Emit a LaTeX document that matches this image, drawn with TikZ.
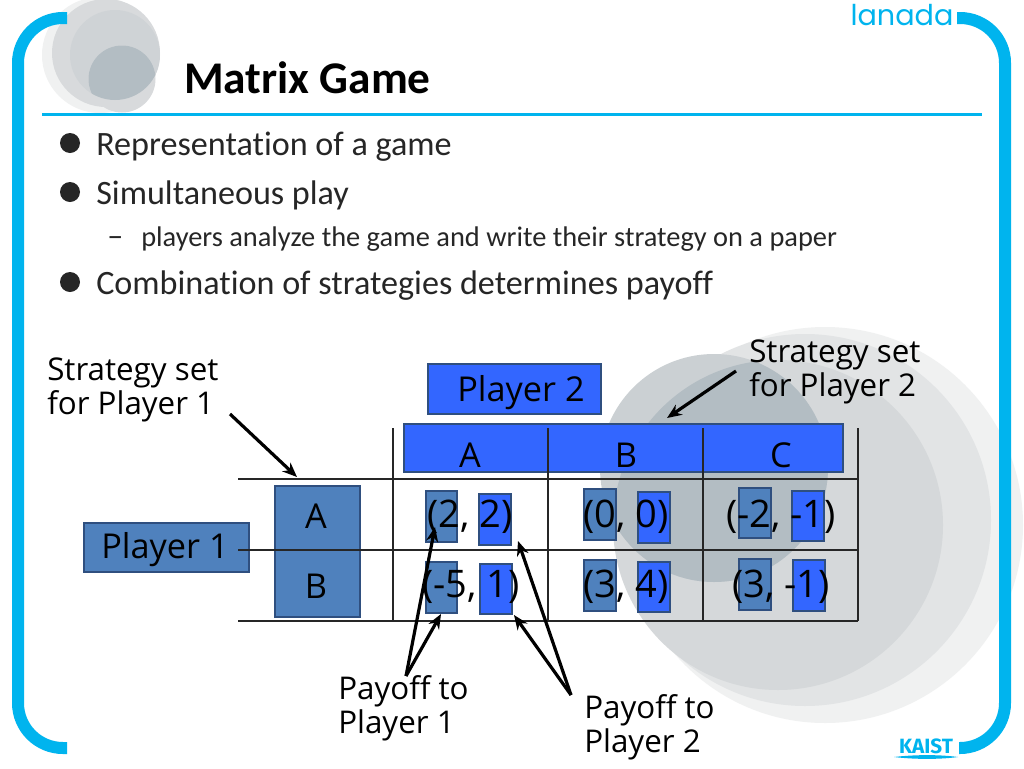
\documentclass[tikz,border=0pt]{standalone}
\usepackage{fontspec}
\setmainfont[Ligatures=NoCommon]{Carlito}
\newfontfamily\handfont{Open Sans}
\newfontfamily\logofont{Poppins}
\newfontfamily\kaistfont{Fira Sans}
\usetikzlibrary{arrows.meta}
\definecolor{framec}{HTML}{00B4EE}
\definecolor{pone}{HTML}{4F81BD}
\definecolor{ptwo}{HTML}{3366FF}
\definecolor{edgec}{HTML}{2F4F7F}
\definecolor{inkc}{HTML}{262626}
\definecolor{ca}{HTML}{F0F1F1}
\definecolor{cb}{HTML}{E2E4E5}
\definecolor{cc}{HTML}{D5D8DA}
\definecolor{cd}{HTML}{CBD0D3}
\definecolor{ce}{HTML}{B3BDC3}
\definecolor{tlb}{HTML}{D8DADC}
\definecolor{tlc}{HTML}{CFD3D6}
\tikzset{
  x=0.75pt,y=-0.75pt,
  frameline/.style={draw=framec,line width=9pt},
  ruleline/.style={draw=framec,line width=2.2pt},
  tablegrid/.style={draw=black!85,line width=1.3pt},
  pointer/.style={draw=black,line width=2.4pt,-{Stealth[length=11pt,width=9pt]}},
  hand/.style={font=\handfont\fontsize{23.5}{25.5}\selectfont,inner sep=0pt,align=left,text=black},
  cellt/.style={font=\handfont\fontsize{28.5}{30}\selectfont,inner sep=0pt,text=black},
  labelt/.style={font=\handfont\fontsize{25.7}{27}\selectfont,inner sep=0pt,text=black},
  bullettext/.style={font=\fontsize{25.6}{30}\selectfont,anchor=base west,inner sep=0pt,text=inkc},
  subtext/.style={font=\fontsize{21.3}{24}\selectfont,anchor=base west,inner sep=0pt,text=inkc},
  bulletdot/.style={circle,fill=inkc,inner sep=0pt,minimum size=15pt},
  bx/.style={draw=edgec,line width=0.8pt,inner sep=0pt,outer sep=0pt},
  onebox/.style={bx,fill=pone},
  twobox/.style={bx,fill=ptwo},
}
\newcommand{\pbox}[6]{% style, name, x1,y1,x2,y2
  \pgfmathsetmacro{\mw}{(#5-#3)*0.75}\pgfmathsetmacro{\mh}{(#6-#4)*0.75}
  \node[#1,minimum width=\mw pt,minimum height=\mh pt] (#2) at ({(#3+#5)/2},{(#4+#6)/2}) {};
}
\begin{document}
\begin{tikzpicture}
\useasboundingbox (0,0) rectangle (1024,768);
\fill[white] (0,0) rectangle (1024,768);
% decorative circles, top left
\fill[ca] (100,55) circle (58);
\fill[tlb] (106,53) circle (54);
\fill[tlc] (115,55) circle (45);
\fill[tlb] (122,79) circle (33.5);
\begin{scope}
  \clip (115,55) circle (45);
  \fill[ce] (122,79) circle (33.5);
\end{scope}
% decorative circles, lower right
\fill[ca] (825,525) circle (198);
\fill[cb] (805,520) circle (186);
\fill[cc] (778,525) circle (165);
\fill[cd] (714,468) circle (114);
\begin{scope}
  \clip (778,525) circle (165);
  \fill[ce] (714,468) circle (114);
\end{scope}
% frame
\draw[frameline] (67,18) -- (63,18) arc[start angle=-90,end angle=-180,radius=45] -- (18,703) arc[start angle=180,end angle=90,radius=45] -- (67,748);
\draw[frameline] (957,18) -- (960,18) arc[start angle=-90,end angle=0,radius=45] -- (1005,703) arc[start angle=0,end angle=90,radius=45] -- (959,748);
\draw[ruleline] (42,114.5) -- (982,114.5);
% logos
\node[font=\logofont\fontsize{21.5}{21.5}\selectfont,text=framec,inner sep=0pt,anchor=base] (lanada) at (902,25) {lanada};
\node[font=\kaistfont\bfseries\fontsize{15.5}{16}\selectfont,text=framec,inner sep=0pt,anchor=base] (kaist) at (926,753) {KAIST};
\fill[framec] (894,757) .. controls (915,754.5) and (940,754.5) .. (958,757) .. controls (940,759.5) and (915,759.5) .. (894,757) -- cycle;
% title and bullets
\node[font=\bfseries\fontsize{34}{40}\selectfont,anchor=base west,inner sep=0pt] (title) at (184,93) {Matrix Game};
\node[bulletdot] (b1) at (70,143) {};
\node[bullettext] (t1) at (96,155) {Representation of a game};
\node[bulletdot] (b2) at (70,192) {};
\node[bullettext] (t2) at (96,204) {Simultaneous play};
\node[font=\fontsize{24}{24}\selectfont,anchor=base west,inner sep=0pt,text=inkc] (d1) at (107,246) {–};
\node[subtext] (t3) at (141,246) {players analyze the game and write their strategy on a paper};
\node[bulletdot] (b3) at (70,282) {};
\node[bullettext] (t4) at (96,294) {Combination of strategies determines payoff};
% blue boxes
\pbox{twobox}{ptwo}{428}{364}{601}{414}
\pbox{twobox}{hdr}{404}{424}{843}{472}
\pbox{onebox}{pone}{84}{523}{249}{572}
\pbox{onebox}{strat}{275}{486}{360}{617}
\pbox{onebox}{oAA}{426}{491}{457}{542}
\pbox{twobox}{tAA}{479}{494}{511}{545}
\pbox{onebox}{oAB}{584}{489}{616}{540}
\pbox{twobox}{tAB}{638}{492}{670}{543}
\pbox{onebox}{oAC}{739}{488}{771}{538}
\pbox{twobox}{tAC}{792}{491}{824}{541}
\pbox{onebox}{oBA}{426}{562}{457}{613}
\pbox{twobox}{tBA}{480}{564}{512}{614}
\pbox{onebox}{oBB}{584}{560}{616}{611}
\pbox{twobox}{tBB}{638}{562}{670}{612}
\pbox{onebox}{oBC}{739}{559}{771}{610}
\pbox{twobox}{tBC}{793}{560}{825}{611}
% table grid
\coordinate (gl1) at (238,479); \coordinate (gr1) at (858,479);
\coordinate (gl2) at (238,550); \coordinate (gr2) at (858,550);
\coordinate (gl3) at (238,621); \coordinate (gr3) at (858,621);
\coordinate (v1t) at (393,428); \coordinate (v1b) at (393,621);
\coordinate (v2t) at (548,428); \coordinate (v2b) at (548,621);
\coordinate (v3t) at (703,428); \coordinate (v3b) at (703,621);
\coordinate (v4t) at (858,428); \coordinate (v4b) at (858,621);
\draw[tablegrid] (gl1) -- (gr1);
\draw[tablegrid] (gl2) -- (gr2);
\draw[tablegrid] (gl3) -- (gr3);
\draw[tablegrid] (v1t) -- (v1b);
\draw[tablegrid] (v2t) -- (v2b);
\draw[tablegrid] (v3t) -- (v3b);
\draw[tablegrid] (v4t) -- (v4b);
% texts
\node[hand,anchor=north west] (s1) at (47,358) {Strategy set\\for Player 1};
\node[hand,anchor=north west] (s2) at (749,340) {Strategy set\\for Player 2};
\node[labelt] (lp2) at (521,393) {Player 2};
\node[labelt] (lp1) at (165,550) {Player 1};
\node[labelt] (ha) at (470,455) {A};
\node[labelt] (hb) at (626,455) {B};
\node[labelt] (hc) at (781,455) {C};
\node[labelt] (ra) at (316,516) {A};
\node[labelt] (rb) at (316,586) {B};
\node[cellt] (c11) at (470,517) {(2, 2)};
\node[cellt] (c12) at (626,517) {(0, 0)};
\node[cellt] (c13) at (781,517) {(-2, -1)};
\node[cellt] (c21) at (471,587) {(-5, 1)};
\node[cellt] (c22) at (626,587) {(3, 4)};
\node[cellt] (c23) at (781,587) {(3, -1)};
\node[hand,anchor=north west] (pay1) at (338,675) {Payoff to\\Player 1};
\node[hand,anchor=north west] (pay2) at (584,694) {Payoff to\\Player 2};
% pointers
\coordinate (f1) at (230,414); \coordinate (h1) at (297,477);
\coordinate (f2) at (736,371); \coordinate (h2) at (667,418);
\coordinate (f3) at (406,676); \coordinate (h3) at (435,527); \coordinate (h4) at (441,614);
\coordinate (f4) at (571,695); \coordinate (h5) at (518,541); \coordinate (h6) at (514,615);
\draw[pointer] (f1) -- (h1);
\draw[pointer] (f2) -- (h2);
\draw[pointer] (f3) -- (h3);
\draw[pointer] (f3) -- (h4);
\draw[pointer] (f4) -- (h5);
\draw[pointer] (f4) -- (h6);
\end{tikzpicture}
\end{document}
